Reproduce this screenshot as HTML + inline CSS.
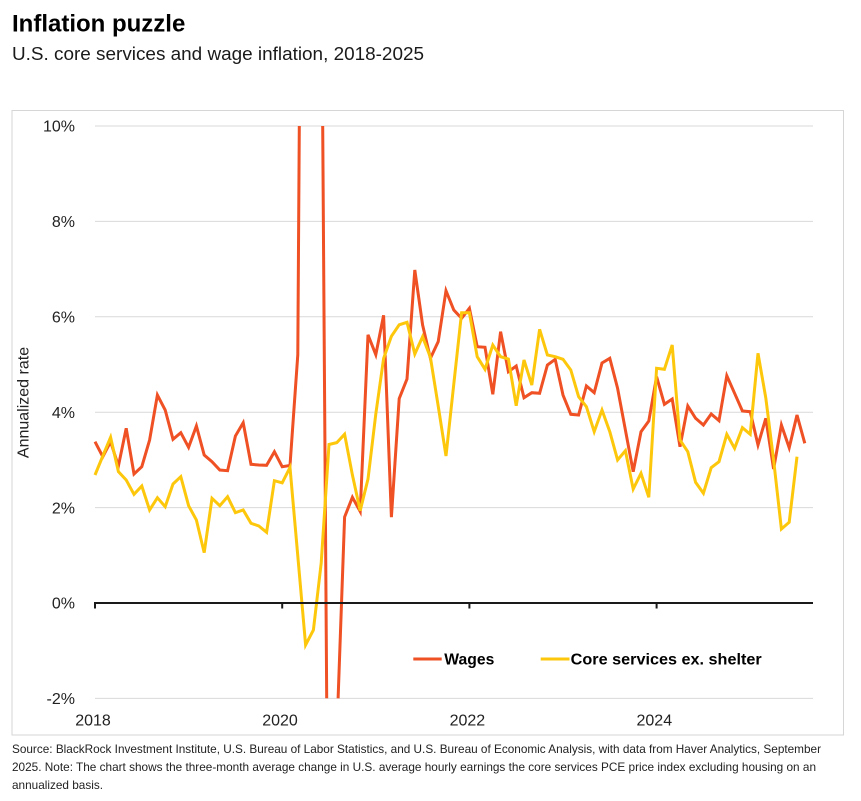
<!DOCTYPE html>
<html>
<head>
<meta charset="utf-8">
<style>
  html, body { margin: 0; padding: 0; background: #ffffff; }
  body { width: 861px; height: 801px; overflow: hidden; }
  svg { display: block; }
  text { font-family: "Liberation Sans", Arial, sans-serif; }
</style>
</head>
<body>
<svg width="861" height="801" viewBox="0 0 861 801" xmlns="http://www.w3.org/2000/svg">
  <rect x="0" y="0" width="861" height="801" fill="#ffffff"/>

  <!-- Title -->
  <text x="12" y="31.5" font-size="24" font-weight="700" fill="#000000">Inflation puzzle</text>
  <text x="12" y="60" font-size="18.8" fill="#1a1a1a" textLength="412" lengthAdjust="spacingAndGlyphs">U.S. core services and wage inflation, 2018-2025</text>

  <!-- Chart frame -->
  <rect x="12" y="110.5" width="831.5" height="624.5" fill="none" stroke="#d6d6d6" stroke-width="1"/>

  <!-- Gridlines -->
  <g stroke="#d9d9d9" stroke-width="1">
    <line x1="95" y1="126" x2="813" y2="126"/>
    <line x1="95" y1="221.4" x2="813" y2="221.4"/>
    <line x1="95" y1="316.8" x2="813" y2="316.8"/>
    <line x1="95" y1="412.2" x2="813" y2="412.2"/>
    <line x1="95" y1="507.6" x2="813" y2="507.6"/>
    <line x1="95" y1="698.4" x2="813" y2="698.4"/>
  </g>

  <!-- Y tick labels -->
  <g font-size="16" fill="#222" text-anchor="end">
    <text x="75" y="131.7">10%</text>
    <text x="75" y="227.1">8%</text>
    <text x="75" y="322.5">6%</text>
    <text x="75" y="417.9">4%</text>
    <text x="75" y="513.3">2%</text>
    <text x="75" y="608.7">0%</text>
    <text x="75" y="704.1">-2%</text>
  </g>

  <!-- Y axis title -->
  <text transform="translate(28.5,402.5) rotate(-90)" font-size="16" fill="#222" text-anchor="middle">Annualized rate</text>

  <!-- X tick labels -->
  <g font-size="16" fill="#222" text-anchor="middle">
    <text x="93" y="725.7">2018</text>
    <text x="280" y="725.7">2020</text>
    <text x="467.4" y="725.7">2022</text>
    <text x="654.3" y="725.7">2024</text>
  </g>

  <defs>
    <clipPath id="plot">
      <rect x="88" y="126" width="730" height="572.4"/>
    </clipPath>
  </defs>

  <g clip-path="url(#plot)" fill="none" stroke-width="3" stroke-linejoin="miter" stroke-miterlimit="4">
    <!-- Wages (pre-clipped segments) -->
    <path stroke="#EF5024" d="M95,441.7 L102.8,456.7 L110.6,441.7 L118.4,466 L126.2,428.3 L134,474 L141.8,466.7 L149.6,440 L157.4,395 L165.2,410 L173,439.3 L180.8,432.7 L188.6,447.3 L196.4,426 L204.2,455 L212,461.7 L219.8,470 L227.6,470.7 L235.4,436 L243.2,422.7 L251,464.3 L258.8,465 L266.6,465.3 L274.4,451.7 L282.2,466.7 L290,465.5 L297.8,354.7 L299.3,126 M322.7,126 L326.7,698.4 M338.1,698.4 L344.6,517 L352.4,497.3 L360.2,511.5 L368,334.8 L375.8,354.7 L383.6,315.3 L391.4,517.2 L399.2,398.6 L407,379 L414.8,270 L422.6,325 L430.4,358.3 L438.2,341.7 L446,290.7 L453.8,310 L461.6,318.3 L469.4,308.3 L477.2,346.7 L485,347.3 L492.8,394.3 L500.6,331.7 L508.4,371.7 L516.2,366 L524,397.7 L531.8,392.7 L539.6,393.3 L547.4,365 L555.2,359.3 L563,395 L570.8,414.3 L578.6,415 L586.4,386 L594.2,392.7 L602,363 L609.8,358.3 L617.6,388.3 L625.4,430 L633.2,471.7 L641,431.7 L648.8,421 L656.6,376.7 L664.4,404.3 L672.2,399 L680,446.7 L687.8,406 L695.6,418.3 L703.4,425 L711.2,414 L719,420.7 L726.8,375.7 L734.6,393.3 L742.4,411 L750.2,411.7 L758,445 L765.8,418.3 L773.6,469 L781.4,425 L789.2,447.7 L797,415 L804.8,443.3"/>
    <!-- Core services ex. shelter -->
    <polyline stroke="#FDC70C" points="95,475 102.8,456 110.6,437.3 118.4,471.7 126.2,480 134,494.3 141.8,486 149.6,510 157.4,497.7 165.2,506.7 173,484 180.8,476.7 188.6,505.7 196.4,520 204.2,552.7 212,498.3 219.8,505.7 227.6,496.7 235.4,512.7 243.2,510 251,523.3 258.8,526 266.6,532.3 274.4,480.7 282.2,482.8 290,467.5 297.8,556 305.6,645 313.4,630 321.2,563 329,444.5 336.8,442.6 344.6,434.2 352.4,475 360.2,510.7 368,479 375.8,414 383.6,358.5 391.4,336.3 399.2,324.8 407,322.3 414.8,354 422.6,336.7 430.4,357.3 438.2,406 446,456 453.8,384 461.6,312.7 469.4,312.7 477.2,356.7 485,369.3 492.8,345 500.6,356.7 508.4,359 516.2,405.7 524,360 531.8,385 539.6,329.3 547.4,355 555.2,356.7 563,359.3 570.8,370 578.6,396.7 586.4,406.7 594.2,431.7 602,410 609.8,431.7 617.6,460 625.4,450.7 633.2,489 641,473.3 648.8,497.3 656.6,368.3 664.4,369.3 672.2,345 680,440 687.8,451.7 695.6,482.3 703.4,493.3 711.2,467.7 719,461.7 726.8,434.3 734.6,448.3 742.4,427.7 750.2,434.3 758,353.3 765.8,398 773.6,460 781.4,529 789.2,522.3 797,456.7"/>
  </g>

  <!-- Zero axis line and ticks -->
  <line x1="94" y1="603" x2="813" y2="603" stroke="#1a1a1a" stroke-width="2"/>
  <g stroke="#1a1a1a" stroke-width="2">
    <line x1="95" y1="602" x2="95" y2="608.5"/>
    <line x1="282.2" y1="602" x2="282.2" y2="608.5"/>
    <line x1="469.4" y1="602" x2="469.4" y2="608.5"/>
    <line x1="656.6" y1="602" x2="656.6" y2="608.5"/>
  </g>

  <!-- Legend -->
  <line x1="413.3" y1="659" x2="441.7" y2="659" stroke="#EF5024" stroke-width="3"/>
  <text x="444.3" y="664.5" font-size="16" font-weight="700" fill="#000" textLength="50" lengthAdjust="spacingAndGlyphs">Wages</text>
  <line x1="540.7" y1="659" x2="569.5" y2="659" stroke="#FDC70C" stroke-width="3"/>
  <text x="570.7" y="664.5" font-size="16" font-weight="700" fill="#000" textLength="191" lengthAdjust="spacingAndGlyphs">Core services ex. shelter</text>

  <!-- Source notes -->
  <g font-size="11.8" fill="#222">
    <text x="12" y="753" textLength="809" lengthAdjust="spacingAndGlyphs">Source: BlackRock Investment Institute, U.S. Bureau of Labor Statistics, and U.S. Bureau of Economic Analysis, with data from Haver Analytics, September</text>
    <text x="12" y="771" textLength="804" lengthAdjust="spacingAndGlyphs">2025. Note: The chart shows the three-month average change in U.S. average hourly earnings the core services PCE price index excluding housing on an</text>
    <text x="12" y="789" textLength="91" lengthAdjust="spacingAndGlyphs">annualized basis.</text>
  </g>
</svg>
</body>
</html>
